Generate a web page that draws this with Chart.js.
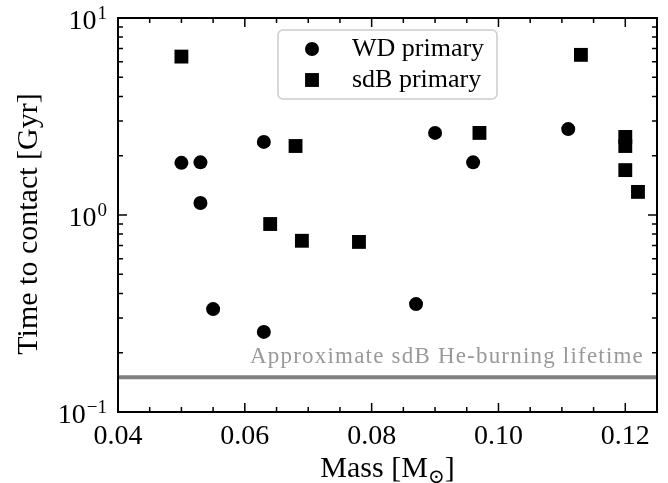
<!DOCTYPE html>
<html>
<head>
<meta charset="utf-8">
<script src="https://cdn.jsdelivr.net/npm/chart.js@4.4.1/dist/chart.umd.min.js"></script>
<style>
  html, body { margin: 0; padding: 0; background: #fff; }
</style>
</head>
<body>
<canvas id="chartCanvas" width="668" height="483"></canvas>
<script>
const wdMass = [0.050, 0.053, 0.053, 0.055, 0.063, 0.063, 0.087, 0.090, 0.096, 0.111];
const wdTime = [1.84, 1.85, 1.15, 0.333, 2.35, 0.255, 0.353, 2.61, 1.85, 2.73];
const sdbMass = [0.050, 0.064, 0.068, 0.069, 0.078, 0.097, 0.113, 0.120, 0.120, 0.120, 0.122];
const sdbTime = [6.37, 0.90, 2.24, 0.74, 0.73, 2.61, 6.50, 2.49, 2.24, 1.69, 1.31];
const lifetime = 0.15;
const massRange = [0.04, 0.125];
const xTicks = [0.04, 0.06, 0.08, 0.10, 0.12];
const yTicks = [0.1, 1, 10];
const legendLabels = ["WD primary", "sdB primary"];
const lifetimeLabel = "Approximate sdB He-burning lifetime";

const serif = "'Liberation Serif', 'DejaVu Serif', serif";

const toPoints = (xs, ys) => xs.map((x, i) => ({ x: x, y: ys[i] }));

// matplotlib style: inward ticks on all sides, custom legend and titles
const decorations = {
    id: "decorations",
    afterDraw(chart) {
        const ctx = chart.ctx;
        const area = chart.chartArea;
        const xs = chart.scales.x;
        const ys = chart.scales.y;
        ctx.save();

        // minor/major ticks
        ctx.strokeStyle = "#000";
        ctx.lineWidth = 1.5;
        const xMinor = [];
        for (let i = 9; i <= 25; i++) if (i % 4 !== 0) xMinor.push(i * 0.005);
        const yMinor = [];
        [0.1, 1].forEach((d) => { for (let k = 2; k <= 9; k++) yMinor.push(d * k); });

        ctx.beginPath();
        xTicks.forEach((v) => {
            const px = xs.getPixelForValue(v);
            ctx.moveTo(px, area.bottom); ctx.lineTo(px, area.bottom - 9);
            ctx.moveTo(px, area.top); ctx.lineTo(px, area.top + 9);
        });
        xMinor.forEach((v) => {
            const px = xs.getPixelForValue(v);
            ctx.moveTo(px, area.bottom); ctx.lineTo(px, area.bottom - 5);
            ctx.moveTo(px, area.top); ctx.lineTo(px, area.top + 5);
        });
        yTicks.forEach((v) => {
            const py = ys.getPixelForValue(v);
            ctx.moveTo(area.left, py); ctx.lineTo(area.left + 9, py);
            ctx.moveTo(area.right, py); ctx.lineTo(area.right - 9, py);
        });
        yMinor.forEach((v) => {
            const py = ys.getPixelForValue(v);
            ctx.moveTo(area.left, py); ctx.lineTo(area.left + 5, py);
            ctx.moveTo(area.right, py); ctx.lineTo(area.right - 5, py);
        });
        ctx.stroke();

        // frame
        ctx.lineWidth = 2;
        ctx.strokeRect(area.left, area.top, area.right - area.left, area.bottom - area.top);

        // y tick labels 10^n
        ctx.fillStyle = "#000";
        ctx.textBaseline = "alphabetic";
        ctx.textAlign = "left";
        yTicks.forEach((v) => {
            const py = ys.getPixelForValue(v);
            const e = Math.round(Math.log10(v));
            const expText = e < 0 ? "\u2212" + Math.abs(e) : String(e);
            ctx.font = "19px " + serif;
            const ew = ctx.measureText(expText).width;
            const right = area.left - 11;
            ctx.fillText(expText, right - ew, py + 1);
            ctx.font = "28px " + serif;
            const bw = ctx.measureText("10").width;
            ctx.fillText("10", right - ew - bw - 1, py + 11);
        });

        // x title with subscript
        const cx = (area.left + area.right) / 2;
        ctx.font = "30px " + serif;
        const p1 = "Mass [M";
        const p3 = "]";
        const w1 = ctx.measureText(p1).width;
        const w3 = ctx.measureText(p3).width;
        ctx.font = "20px " + serif;
        const w2 = ctx.measureText("\u2299").width;
        let tx = cx - (w1 + w2 + w3) / 2;
        ctx.font = "30px " + serif;
        ctx.fillText(p1, tx, 477);
        ctx.font = "20px " + serif;
        ctx.fillText("\u2299", tx + w1, 483);
        ctx.font = "30px " + serif;
        ctx.fillText(p3, tx + w1 + w2, 477);

        // y title
        ctx.save();
        ctx.translate(37, 224);
        ctx.rotate(-Math.PI / 2);
        ctx.textAlign = "center";
        ctx.font = "30px " + serif;
        ctx.fillText("Time to contact [Gyr]", 0, 0);
        ctx.restore();

        // lifetime annotation
        ctx.fillStyle = "#999999";
        ctx.textAlign = "right";
        ctx.font = "23px " + serif;
        ctx.letterSpacing = "1.2px";
        ctx.fillText(lifetimeLabel, area.right - 13, ys.getPixelForValue(lifetime) - 14);
        ctx.letterSpacing = "0px";

        // legend
        const lw = 219, lh = 69;
        const lx = cx - lw / 2, ly = area.top + 12;
        ctx.beginPath();
        ctx.roundRect(lx, ly, lw, lh, 5);
        ctx.fillStyle = "rgba(255,255,255,0.8)";
        ctx.fill();
        ctx.strokeStyle = "#cccccc";
        ctx.lineWidth = 1.5;
        ctx.stroke();
        ctx.fillStyle = "#000";
        ctx.textAlign = "left";
        ctx.font = "26px " + serif;
        const ds = chart.data.datasets;
        legendLabels.forEach((label, i) => {
            const my = ly + 19 + i * 31;
            const mx = lx + 34;
            ctx.fillStyle = ds[i].backgroundColor;
            ctx.beginPath();
            if (ds[i].pointStyle === "circle") {
                ctx.arc(mx, my, ds[i].pointRadius, 0, Math.PI * 2);
            } else {
                const s = ds[i].pointRadius * Math.SQRT1_2;
                ctx.rect(mx - s, my - s, 2 * s, 2 * s);
            }
            ctx.fill();
            ctx.fillStyle = "#000";
            ctx.fillText(label, lx + 74, my + 7);
        });

        ctx.restore();
    },
};

const ctx = document.getElementById("chartCanvas").getContext("2d");
window.chart = new Chart(ctx, {
    type: "scatter",
    data: {
        datasets: [
            {
                label: legendLabels[0],
                data: toPoints(wdMass, wdTime),
                pointStyle: "circle",
                pointRadius: 7,
                pointHoverRadius: 7,
                backgroundColor: "#000000",
                borderWidth: 0,
            },
            {
                label: legendLabels[1],
                data: toPoints(sdbMass, sdbTime),
                pointStyle: "rect",
                pointRadius: 9.8,
                pointHoverRadius: 9.8,
                backgroundColor: "#000000",
                borderWidth: 0,
            },
            {
                type: "line",
                label: lifetimeLabel,
                data: massRange.map((m) => ({ x: m, y: lifetime })),
                borderColor: "#808080",
                borderWidth: 4,
                pointRadius: 0,
                showLine: true,
                fill: false,
            },
        ],
    },
    options: {
        responsive: false,
        animation: false,
        layout: { padding: { left: 0, top: 18, right: 11, bottom: 0 } },
        plugins: {
            legend: { display: false },
            tooltip: { enabled: false },
        },
        scales: {
            x: {
                type: "linear",
                min: massRange[0],
                max: massRange[1],
                afterBuildTicks: (scale) => { scale.ticks = xTicks.map((v) => ({ value: v })); },
                afterFit: (scale) => { scale.height = 71; },
                grid: { display: false, drawTicks: false },
                border: { display: false },
                ticks: {
                    color: "#000",
                    padding: 8,
                    maxRotation: 0,
                    autoSkip: false,
                    font: { family: serif, size: 28 },
                    callback: (v) => Number(v).toFixed(2),
                },
            },
            y: {
                type: "logarithmic",
                min: 0.1,
                max: 10,
                afterBuildTicks: (scale) => { scale.ticks = yTicks.map((v) => ({ value: v })); },
                afterFit: (scale) => { scale.width = 118; },
                grid: { display: false, drawTicks: false },
                border: { display: false },
                ticks: { display: false },
            },
        },
    },
    plugins: [decorations],
});
</script>
</body>
</html>
